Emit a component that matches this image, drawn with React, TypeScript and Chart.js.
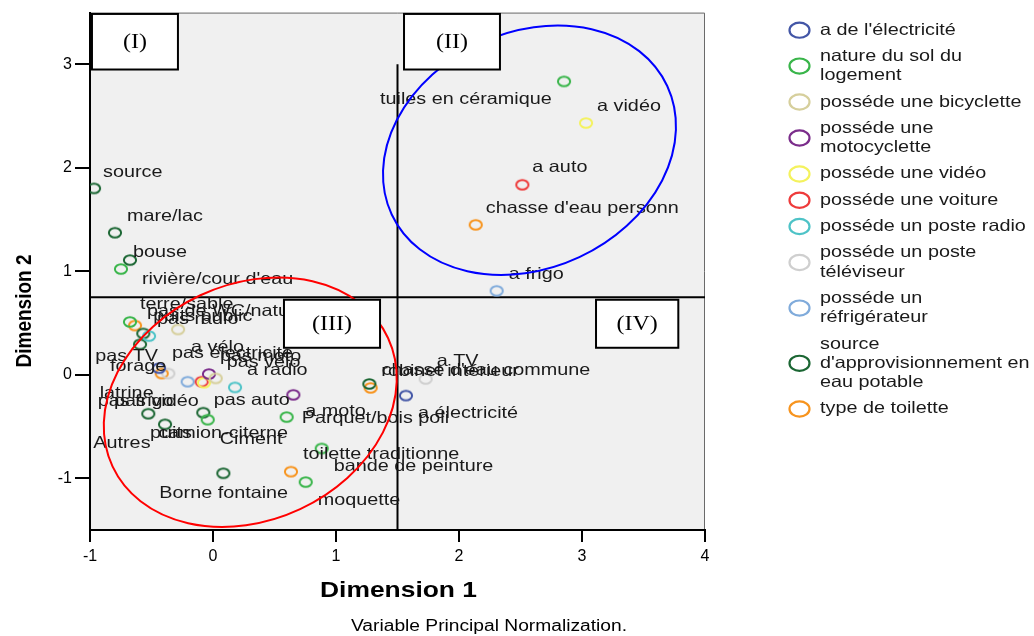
import React, { useEffect, useRef } from "react";
import { Chart, registerables } from "chart.js";

Chart.register(...registerables);

// ---------------- data ----------------
const seriesNames = [
  "a de l'électricité",
  "nature du sol du\nlogement",
  "posséde une bicyclette",
  "posséde une\nmotocyclette",
  "posséde une vidéo",
  "posséde une voiture",
  "posséde un poste radio",
  "posséde un poste\ntéléviseur",
  "posséde un\nréfrigérateur",
  "source\nd'approvisionnement en\neau potable",
  "type de toilette",
];

type P = [string, number, number];

const electricite: P[] = [
  ["a électricité", 1.569, -0.201],
  ["pas électricité", -0.439, 0.064],
];
const natureSol: P[] = [
  ["tuiles en céramique", 2.854, 2.835],
  ["terre/sable", -0.675, 0.511],
  ["bouse", -0.748, 1.022],
  ["Ciment", -0.043, -0.434],
  ["Parquet/bois poli", 0.599, -0.409],
  ["bande de peinture", 0.884, -0.712],
  ["moquette", 0.754, -1.037],
];
const bicyclette: P[] = [
  ["a vélo", -0.284, 0.438],
  ["pas vélo", 0.022, -0.035],
];
const motocyclette: P[] = [
  ["a moto", 0.653, -0.194],
  ["pas moto", -0.033, 0.007],
];
const video: P[] = [
  ["a vidéo", 3.033, 2.433],
  ["pas vidéo", -0.073, -0.077],
];
const voiture: P[] = [
  ["a auto", 2.515, 1.836],
  ["pas auto", -0.092, -0.067],
];
const radio: P[] = [
  ["a radio", 0.179, -0.122],
  ["pas radio", -0.52, 0.374],
];
const televiseur: P[] = [
  ["a TV", 1.729, -0.041],
  ["pas TV", -0.363, 0.012],
];
const refrigerateur: P[] = [
  ["a frigo", 2.306, 0.811],
  ["pas frigo", -0.206, -0.067],
];
const sourceEau: P[] = [
  ["source", -0.967, 1.801],
  ["mare/lac", -0.797, 1.373],
  ["rivière/cour d'eau", -0.675, 1.108],
  ["puits public", -0.567, 0.399],
  ["forage", -0.593, 0.294],
  ["robinet intérieur", 1.271, -0.089],
  ["Autres", -0.526, -0.376],
  ["puits", -0.39, -0.479],
  ["camion-citerne", -0.079, -0.366],
  ["Borne fontaine", 0.084, -0.952],
];
const toilette: P[] = [
  ["chasse d'eau personn", 2.136, 1.449],
  ["pas de WC/nature", -0.634, 0.476],
  ["latrine", -0.417, 0.012],
  ["chasse d'eau commune", 1.282, -0.127],
  ["toilette traditionne", 0.634, -0.936],
];

const allSeries = [
  electricite, natureSol, bicyclette, motocyclette, video, voiture,
  radio, televiseur, refrigerateur, sourceEau, toilette,
];

const xTicks = [-1, 0, 1, 2, 3, 4];
const yTicks = [-1, 0, 1, 2, 3];
const refX = 1.5;
const refY = 0.75;

// ---------------- styles ----------------
const seriesColors = [
  "#4356a6", "#39b54a", "#d6cf9c", "#7b2d8b", "#f4f25e", "#ee3b3b",
  "#4ec3c7", "#cfcfcf", "#80abdb", "#1b6633", "#f7941e",
];

// label offsets (px from point centre to left/middle of text)
const labelOffsets: Record<string, [number, number]> = {
  "a électricité": [12, 18],
  "pas électricité": [13, -15],
  "tuiles en céramique": [-184, 18],
  "terre/sable": [10, -17],
  "bouse": [12, -17],
  "Ciment": [12, 20],
  "Parquet/bois poli": [15, 1],
  "bande de peinture": [12, 18],
  "moquette": [12, 18],
  "a vélo": [13, 18],
  "pas vélo": [11, -16],
  "a moto": [12, 17],
  "pas moto": [11, -18],
  "a vidéo": [11, -17],
  "pas vidéo": [-90, 19],
  "a auto": [10, -17],
  "pas auto": [12, 19],
  "a radio": [12, -17],
  "pas radio": [8, -17],
  "a TV": [11, -18],
  "pas TV": [-73, -17],
  "a frigo": [12, -16],
  "pas frigo": [-90, 20],
  "source": [9, -16],
  "mare/lac": [12, -16],
  "rivière/cour d'eau": [12, 19],
  "puits public": [10, -17],
  "forage": [-30, 22],
  "robinet intérieur": [12, -13],
  "Autres": [-55, 30],
  "puits": [-15, 9],
  "camion-citerne": [-45, 21],
  "Borne fontaine": [-64, 20],
  "chasse d'eau personn": [10, -16],
  "pas de WC/nature": [12, -14],
  "latrine": [-62, 20],
  "chasse d'eau commune": [11, -17],
  "toilette traditionne": [12, -17],
};

const quadBoxes: { text: string; x0: number; x1: number; y0: number; y1: number }[] = [
  { text: "(I)", x0: -0.984, x1: -0.285, y0: 3.487, y1: 2.95 },
  { text: "(II)", x0: 1.553, x1: 2.333, y0: 3.487, y1: 2.95 },
  { text: "(III)", x0: 0.577, x1: 1.358, y0: 0.725, y1: 0.261 },
  { text: "(IV)", x0: 3.114, x1: 3.783, y0: 0.725, y1: 0.261 },
];

const ellipses = [
  { cx: 2.573, cy: 2.17, color: "#0000ff" },
  { cx: 0.303, cy: -0.265, color: "#ff0000" },
];

const SANS = "'Liberation Sans', Arial, sans-serif";
const SERIF = "'Liberation Serif', 'Times New Roman', serif";
const SX = 1.2;

function stretchedText(
  ctx: CanvasRenderingContext2D, text: string, x: number, y: number,
  font: string, align: CanvasTextAlign = "left", color = "#1a1a1a"
) {
  ctx.save();
  ctx.font = font;
  ctx.fillStyle = color;
  ctx.textBaseline = "middle";
  ctx.textAlign = align;
  ctx.translate(x, y);
  ctx.scale(SX, 1);
  ctx.fillText(text, 0, 0);
  ctx.restore();
}

function markerImage(color: string) {
  const c = document.createElement("canvas");
  c.width = 16;
  c.height = 14;
  const g = c.getContext("2d")!;
  g.strokeStyle = color;
  g.lineWidth = 2;
  g.beginPath();
  g.ellipse(8, 7, 6.1, 4.8, 0, 0, Math.PI * 2);
  g.stroke();
  return c;
}

const decor = {
  id: "decor",
  beforeDraw(chart: any) {
    const { ctx, chartArea: a } = chart;
    ctx.save();
    ctx.fillStyle = "#ffffff";
    ctx.fillRect(0, 0, chart.width, chart.height);
    ctx.fillStyle = "#f0f0f0";
    ctx.fillRect(a.left, a.top, a.right - a.left, a.bottom - a.top);
    ctx.strokeStyle = "#6a6a6a";
    ctx.lineWidth = 1;
    ctx.beginPath();
    ctx.moveTo(a.left, a.top + 0.5);
    ctx.lineTo(a.right - 0.5, a.top + 0.5);
    ctx.lineTo(a.right - 0.5, a.bottom);
    ctx.stroke();
    ctx.restore();
  },
  beforeDatasetsDraw(chart: any) {
    const { ctx, chartArea: a, scales } = chart;
    const px = scales.x.getPixelForValue(refX);
    const py = scales.y.getPixelForValue(refY);
    ctx.save();
    ctx.strokeStyle = "#000";
    ctx.lineWidth = 2;
    ctx.beginPath();
    ctx.moveTo(px, scales.y.getPixelForValue(3));
    ctx.lineTo(px, a.bottom);
    ctx.moveTo(a.left, py);
    ctx.lineTo(a.right, py);
    ctx.stroke();
    ctx.restore();
  },
  afterDatasetsDraw(chart: any) {
    const { ctx, scales } = chart;
    chart.data.datasets.forEach((ds: any, di: number) => {
      const meta = chart.getDatasetMeta(di);
      meta.data.forEach((el: any, i: number) => {
        const label = ds.data[i].label as string;
        const off = labelOffsets[label] || [11, -17];
        stretchedText(ctx, label, el.x + off[0], el.y + off[1], `16.5px ${SANS}`);
      });
    });
    ellipses.forEach((e) => {
      ctx.save();
      ctx.strokeStyle = e.color;
      ctx.lineWidth = 2;
      ctx.beginPath();
      ctx.ellipse(
        scales.x.getPixelForValue(e.cx), scales.y.getPixelForValue(e.cy),
        152, 118, (-25 * Math.PI) / 180, 0, Math.PI * 2
      );
      ctx.stroke();
      ctx.restore();
    });
    quadBoxes.forEach((b) => {
      const x0 = scales.x.getPixelForValue(b.x0);
      const x1 = scales.x.getPixelForValue(b.x1);
      const y0 = scales.y.getPixelForValue(b.y0);
      const y1 = scales.y.getPixelForValue(b.y1);
      ctx.save();
      ctx.fillStyle = "#ffffff";
      ctx.fillRect(x0, y0, x1 - x0, y1 - y0);
      ctx.strokeStyle = "#000";
      ctx.lineWidth = 2;
      ctx.strokeRect(x0, y0, x1 - x0, y1 - y0);
      ctx.restore();
      stretchedText(ctx, b.text, (x0 + x1) / 2, (y0 + y1) / 2 + 1, `20px ${SERIF}`, "center", "#000");
    });
  },
  afterDraw(chart: any) {
    const { ctx, chartArea: a } = chart;
    stretchedText(ctx, "Dimension 1", (a.left + a.right) / 2 + 1, 591, `bold 22px ${SANS}`, "center", "#000");
    ctx.save();
    ctx.font = `bold 19px ${SANS}`;
    ctx.fillStyle = "#000";
    ctx.textAlign = "center";
    ctx.textBaseline = "middle";
    ctx.translate(25, 311);
    ctx.scale(SX, 1);
    ctx.rotate(-Math.PI / 2);
    ctx.fillText("Dimension 2", 0, 0);
    ctx.restore();
    stretchedText(ctx, "Variable Principal Normalization.", 489, 627, `16px ${SANS}`, "center", "#000");
    const lineH = 19.3;
    let top = 17;
    seriesNames.forEach((name, i) => {
      const lines = name.split("\n");
      const h = lines.length * lineH + 7;
      const yc = top + h / 2;
      ctx.save();
      ctx.strokeStyle = seriesColors[i];
      ctx.lineWidth = 2.2;
      ctx.beginPath();
      ctx.ellipse(799.5, yc, 10, 7.6, 0, 0, Math.PI * 2);
      ctx.stroke();
      ctx.restore();
      lines.forEach((ln, k) => {
        stretchedText(ctx, ln, 820, yc + (k - (lines.length - 1) / 2) * lineH, `16.5px ${SANS}`);
      });
      top += h;
    });
  },
};

export default function App() {
  const ref = useRef<HTMLCanvasElement>(null);
  useEffect(() => {
    const canvas = ref.current!;
    const datasets = allSeries.map((pts, i) => ({
      label: seriesNames[i].replace(/\n/g, " "),
      data: pts.map(([label, x, y]) => ({ x, y, label })),
      pointStyle: markerImage(seriesColors[i]) as any,
      borderColor: seriesColors[i],
      backgroundColor: "transparent",
    }));
    const chart = new Chart(canvas, {
      type: "scatter",
      data: { datasets: datasets as any },
      options: {
        responsive: false,
        animation: false,
        devicePixelRatio: 1,
        events: [],
        layout: { padding: { top: 8, right: 329, left: 0, bottom: 0 } },
        plugins: { legend: { display: false }, tooltip: { enabled: false } },
        scales: {
          x: {
            type: "linear",
            min: -1,
            max: 4,
            afterBuildTicks: (s: any) => {
              s.ticks = xTicks.map((v) => ({ value: v }));
            },
            afterFit: (s: any) => {
              s.height = 106;
            },
            grid: { drawOnChartArea: false, color: "#000", lineWidth: 2, tickLength: 12 },
            border: { color: "#000", width: 2 },
            ticks: { color: "#000", font: { family: SANS, size: 16 }, padding: 5, maxRotation: 0, autoSkip: false },
          },
          y: {
            type: "linear",
            min: -1.5,
            max: 3.5,
            afterBuildTicks: (s: any) => {
              s.ticks = yTicks.map((v) => ({ value: v }));
            },
            afterFit: (s: any) => {
              s.width = 90;
            },
            grid: { drawOnChartArea: false, color: "#000", lineWidth: 2, tickLength: 15 },
            border: { color: "#000", width: 2 },
            ticks: { color: "#000", font: { family: SANS, size: 16 }, padding: 3, autoSkip: false },
          },
        },
      },
      plugins: [decor],
    });
    return () => chart.destroy();
  }, []);
  return (
    <div style={{ position: "fixed", left: 0, top: 0, width: 1034, height: 636, background: "#fff" }}>
      <canvas ref={ref} width={1034} height={636} style={{ width: 1034, height: 636, display: "block" }} />
    </div>
  );
}
